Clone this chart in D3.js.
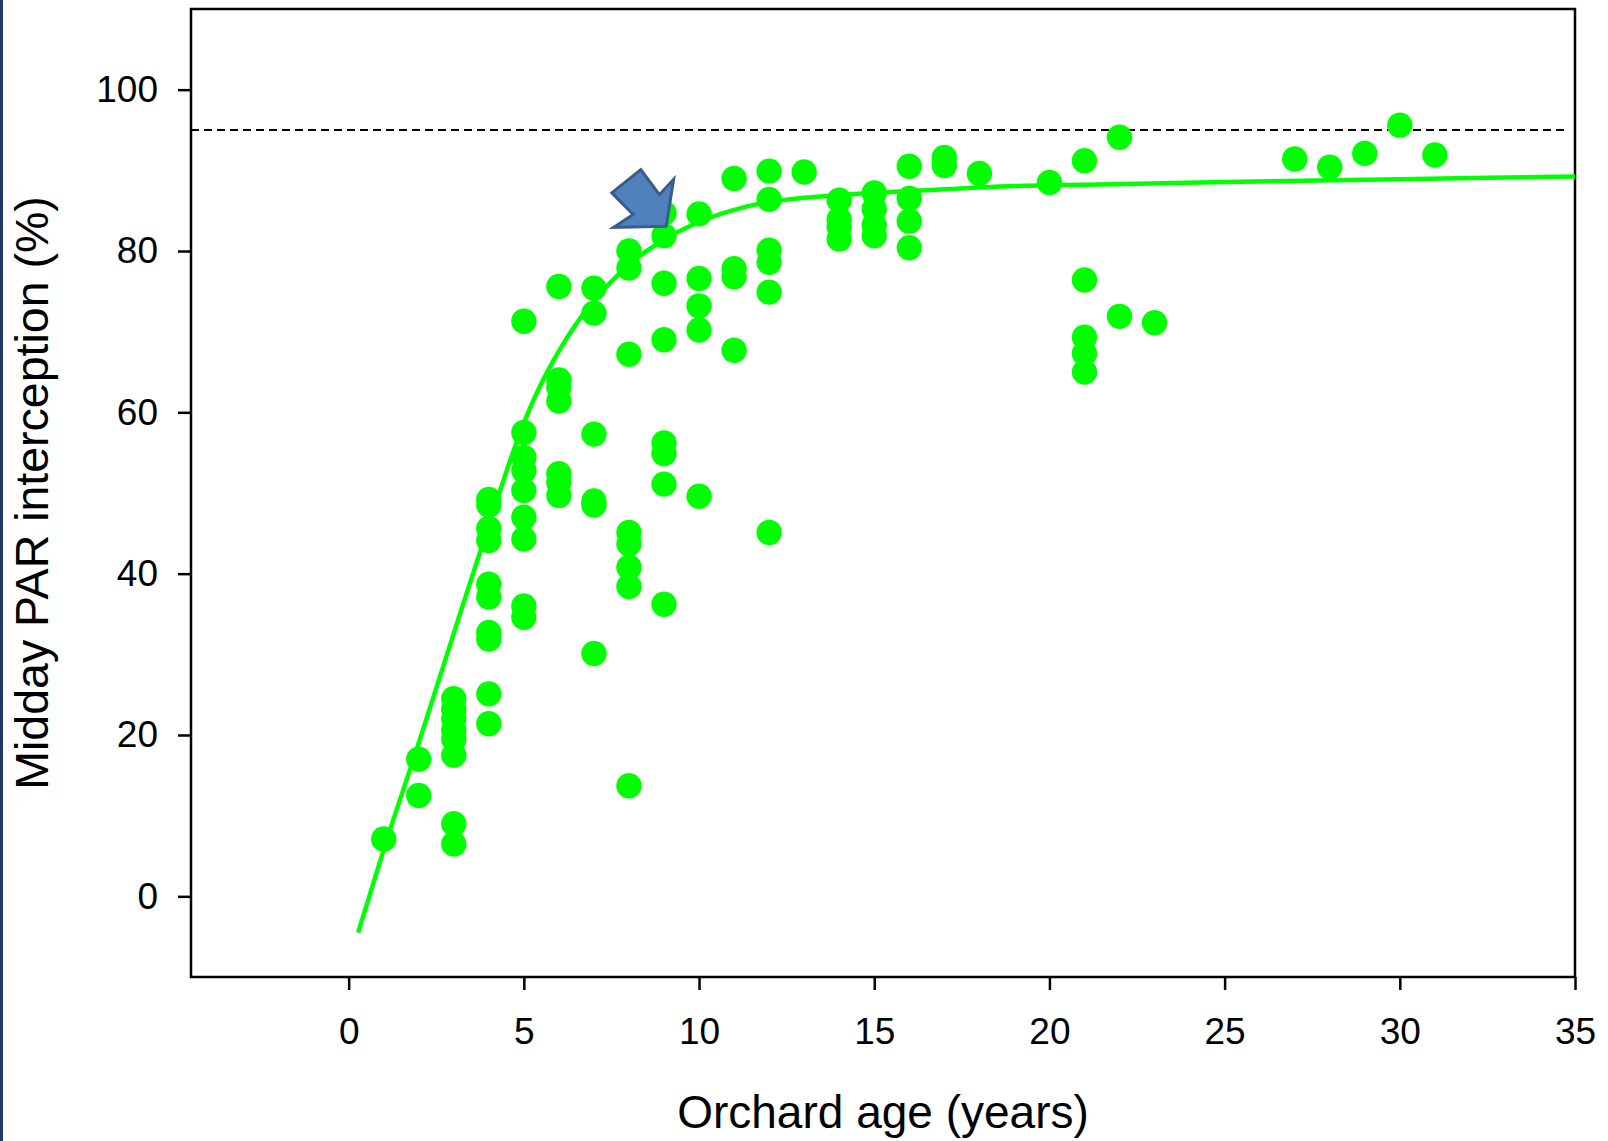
<!doctype html>
<html>
<head>
<meta charset="utf-8">
<script src="https://d3js.org/d3.v7.min.js"></script>
<style>
body { margin: 0; background: #fff; }
text { font-family: "Liberation Sans", Arial, sans-serif; fill: #000; }
</style>
</head>
<body>
<script>
// observed points: orchard age (years) and midday PAR interception (%)
var ageX = [1,
  2, 2,
  3, 3, 3, 3, 3, 3, 3, 3,
  4, 4, 4, 4, 4, 4, 4, 4, 4, 4,
  5, 5, 5, 5, 5, 5, 5, 5, 5,
  6, 6, 6, 6, 6, 6, 6,
  7, 7, 7, 7, 7, 7,
  8, 8, 8, 8, 8, 8, 8, 8,
  9, 9, 9, 9, 9, 9, 9, 9,
  10, 10, 10, 10, 10,
  11, 11, 11, 11,
  12, 12, 12, 12, 12, 12,
  13,
  14, 14, 14, 14,
  15, 15, 15, 15,
  16, 16, 16, 16,
  17, 17,
  18,
  20,
  21, 21, 21, 21, 21,
  22, 22,
  23,
  27, 28, 29, 30, 31];
var parY = [7.1,
  17.0, 12.5,
  24.5, 23.2, 22.0, 20.6, 19.5, 17.5, 9.0, 6.5,
  49.2, 48.5, 45.6, 44.1, 38.7, 37.1, 32.7, 31.9, 25.1, 21.4,
  71.3, 57.5, 54.4, 52.8, 50.3, 47.0, 44.3, 36.0, 34.6,
  75.6, 64.0, 63.1, 61.4, 52.4, 51.3, 49.7,
  75.4, 72.3, 57.3, 49.0, 48.5, 30.1,
  80.0, 77.9, 67.2, 45.1, 43.7, 40.8, 38.4, 13.7,
  84.7, 81.9, 76.0, 69.0, 56.2, 54.9, 51.1, 36.2,
  84.6, 76.6, 73.2, 70.2, 49.6,
  89.0, 77.8, 76.8, 67.7,
  89.9, 86.4, 80.1, 78.6, 74.9, 45.1,
  89.8,
  86.3, 83.9, 83.0, 81.5,
  87.2, 85.2, 83.2, 81.9,
  90.5, 86.5, 83.7, 80.4,
  91.6, 90.6,
  89.6,
  88.5,
  91.2, 76.4, 69.3, 67.3, 65.0,
  94.1, 71.9,
  71.1,
  91.4, 90.4, 92.1, 95.6, 91.9];

// fitted curve
var fitAge = [0.27, 1, 2, 3, 4, 5, 5.5, 6, 6.5, 7, 8, 9, 10, 11, 12, 13, 14, 15, 16, 17, 18.6, 21.4, 25, 30, 35];
var fitPar = [-4.5, 5.8, 19.0, 32.6, 46.0, 58.7, 63.6, 67.6, 71.0, 73.8, 78.3, 81.4, 83.6, 85.1, 86.1, 86.6, 86.95, 87.2, 87.45, 87.65, 88.0, 88.25, 88.55, 88.9, 89.25];

var xTicks = [0, 5, 10, 15, 20, 25, 30, 35];
var yTicks = [0, 20, 40, 60, 80, 100];
var refLevel = 95;
var arrowTip = [9.06, 83.05];

var W = 1608, H = 1141;
var plotL = 191, plotR = 1575, plotT = 9, plotB = 977;

var svg = d3.select("body").append("svg")
    .attr("width", W).attr("height", H);

svg.append("rect").attr("x", 0).attr("y", 0).attr("width", W).attr("height", H).attr("fill", "#fff");
// slide edge
svg.append("rect").attr("x", 0).attr("y", 0).attr("width", 3).attr("height", H).attr("fill", "#1f3864");

var x = d3.scaleLinear().domain([-4.5, 35]).range([plotL, plotR]);
var y = d3.scaleLinear().domain([-10, 110]).range([plotB, plotT]);

// axes
var yAxis = svg.append("g")
    .attr("transform", "translate(" + plotL + ",0)")
    .call(d3.axisLeft(y).tickValues(yTicks).tickSize(13).tickPadding(20).tickFormat(d3.format("d")));
var xAxis = svg.append("g")
    .attr("transform", "translate(0," + plotB + ")")
    .call(d3.axisBottom(x).tickValues(xTicks).tickSize(13).tickPadding(28).tickFormat(d3.format("d")));

[yAxis, xAxis].forEach(function(a) {
    a.select(".domain").remove();
    a.selectAll(".tick line").attr("stroke", "#000").attr("stroke-width", 2.5);
    a.selectAll(".tick text").style("font-size", "37px").attr("fill", "#000");
});

// frame
svg.append("path")
    .attr("d", "M" + plotL + "," + plotT + "H" + plotR + "V" + plotB + "H" + plotL + "Z")
    .attr("stroke", "#000").attr("stroke-width", 2.5).attr("fill", "none");

// reference line at 95 %
svg.append("line")
    .attr("x1", plotL).attr("x2", x(34.8))
    .attr("y1", y(refLevel)).attr("y2", y(refLevel))
    .attr("stroke", "#000").attr("stroke-width", 2)
    .attr("stroke-dasharray", "8,5");

// points
svg.append("g").selectAll("circle")
    .data(ageX)
    .enter().append("circle")
    .attr("cx", function(d) { return x(d); })
    .attr("cy", function(d, i) { return y(parY[i]); })
    .attr("r", 12.7)
    .attr("fill", "#00ff00");

// fitted curve
var line = d3.line()
    .x(function(d) { return x(d); })
    .y(function(d, i) { return y(fitPar[i]); })
    .curve(d3.curveMonotoneX);
svg.append("path")
    .attr("d", line(fitAge))
    .attr("fill", "none")
    .attr("stroke", "#00ff00")
    .attr("stroke-width", 4.5);

// block arrow pointing at the curve
var tx = x(arrowTip[0]), ty = y(arrowTip[1]);
var arrowShape = [[0, 0], [7.5, -47], [-6.7, -31.7], [-25.3, -56.7], [-54.3, -33.5], [-33, -12], [-52.5, 1]];
svg.append("path")
    .attr("d", "M" + arrowShape.map(function(p) { return (tx + p[0]) + "," + (ty + p[1]); }).join("L") + "Z")
    .attr("fill", "#4f81bd")
    .attr("stroke", "#385d8a")
    .attr("stroke-width", 3)
    .attr("stroke-linejoin", "miter");

// titles
svg.append("text")
    .attr("x", (plotL + plotR) / 2)
    .attr("y", 1128)
    .attr("text-anchor", "middle")
    .style("font-size", "46px")
    .text("Orchard age (years)");

svg.append("text")
    .attr("transform", "translate(48," + ((plotT + plotB) / 2) + ") rotate(-90)")
    .attr("text-anchor", "middle")
    .style("font-size", "46.5px")
    .text("Midday PAR interception (%)");
</script>
</body>
</html>
